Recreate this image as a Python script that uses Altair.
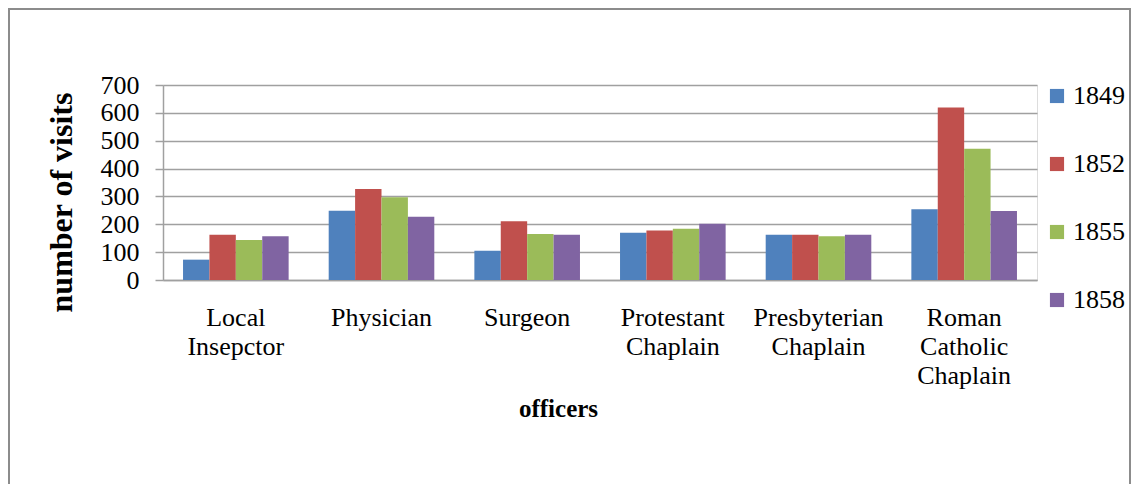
import altair as alt
import pandas as pd

categories = ["Local\nInsepctor", "Physician", "Surgeon", "Protestant\nChaplain",
              "Presbyterian\nChaplain", "Roman\nCatholic\nChaplain"]
years = ["1849", "1852", "1855", "1858"]
v1849 = [73, 249, 105, 170, 162, 254]
v1852 = [162, 327, 211, 178, 162, 619]
v1855 = [144, 297, 165, 184, 157, 471]
v1858 = [157, 227, 162, 202, 162, 248]
colors = ["#4F81BD", "#C0504D", "#9BBB59", "#8064A2"]
y_ticks = [0, 100, 200, 300, 400, 500, 600, 700]

series = {"1849": v1849, "1852": v1852, "1855": v1855, "1858": v1858}
rows = []
for y in years:
    for c, v in zip(categories, series[y]):
        rows.append({"officer": c, "year": y, "visits": v})
df = pd.DataFrame(rows)

FONT = "Liberation Serif"
W, H = 874, 195

bars = alt.Chart(df).mark_bar().encode(
    x=alt.X("officer:N", sort=categories,
            scale=alt.Scale(paddingInner=0.275, paddingOuter=0.1375),
            axis=alt.Axis(title="officers", labelExpr="split(datum.label, '\\n')",
                          labelAngle=0, labelFont=FONT, labelFontSize=26,
                          labelColor="#000", labelLineHeight=29, labelBaseline="top",
                          labelPadding=24, ticks=False, domainColor="#a0a0a0",
                          domainWidth=1.5,
                          titleFont=FONT, titleFontSize=25, titleFontWeight="bold",
                          titleColor="#000", titleX=395, titleY=128,
                          titleBaseline="middle", titleAlign="center")),
    xOffset=alt.XOffset("year:N", sort=years, scale=alt.Scale(paddingInner=0, paddingOuter=0)),
    y=alt.Y("visits:Q", scale=alt.Scale(domain=[0, 700], nice=False),
            axis=alt.Axis(title="number of visits", values=y_ticks, labelFont=FONT,
                          labelFontSize=26, labelColor="#000", labelPadding=16,
                          tickSize=8, tickColor="#a0a0a0", tickWidth=1.5,
                          gridColor="#a0a0a0", gridWidth=1.5,
                          domainColor="#a0a0a0", domainWidth=1.5,
                          titleFont=FONT, titleFontSize=32, titleFontWeight="bold",
                          titleColor="#000", titleX=-102, titleY=117,
                          titleAngle=270, titleBaseline="middle", titleAlign="center")),
    color=alt.Color("year:N", sort=years, scale=alt.Scale(domain=years, range=colors),
                    legend=alt.Legend(title=None, orient="none", legendX=881, legendY=-2,
                                      symbolType="square", symbolSize=200,
                                      symbolStrokeWidth=0, labelFont=FONT,
                                      labelFontSize=26, labelColor="#000",
                                      rowPadding=42, labelOffset=3)),
)

border = alt.Chart(pd.DataFrame({"b": [1]})).mark_rect(
    fill=None, stroke="#8c8c8c", strokeWidth=2
).encode(x=alt.value(-154), x2=alt.value(W + 93), y=alt.value(-76), y2=alt.value(H + 215))

chart = alt.layer(border, bars).properties(
    width=W, height=H,
    autosize=alt.AutoSizeParams(type="none"),
    padding={"left": 155, "top": 77, "right": 94, "bottom": 204},
).configure_view(stroke=None).configure(background="white")

chart.save("out.html", embed_options={"renderer": "svg", "actions": False})
